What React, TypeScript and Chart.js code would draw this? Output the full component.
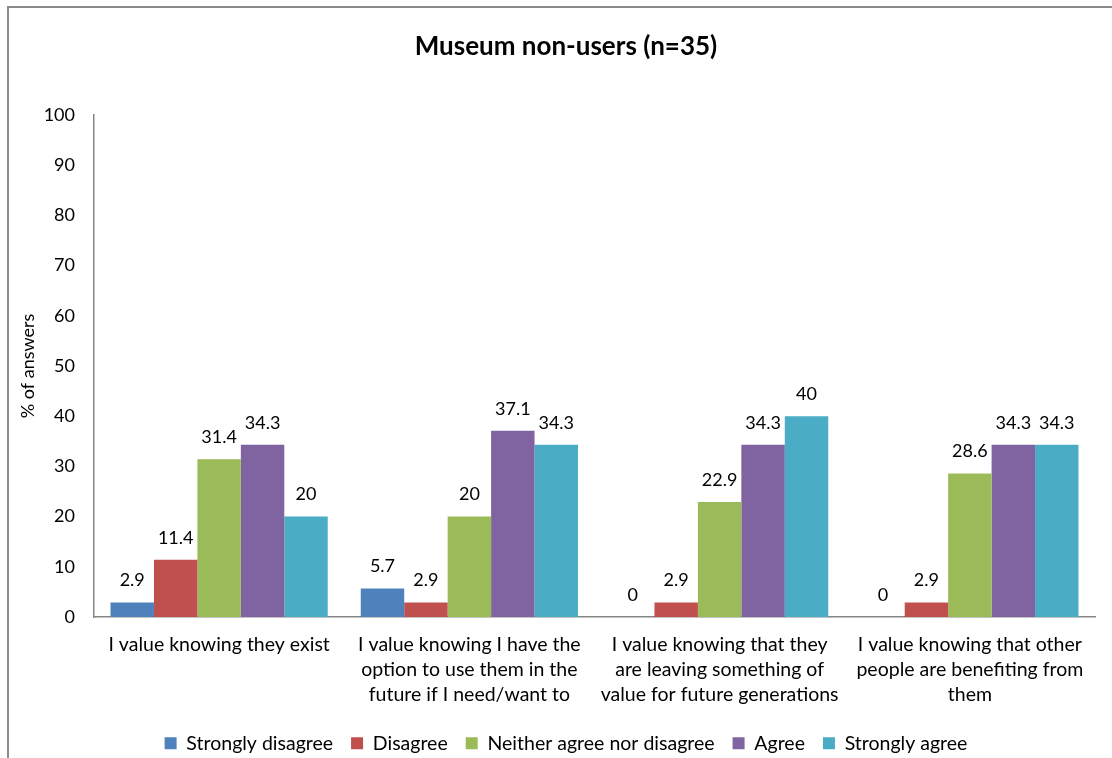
import React, { useEffect, useRef } from "react";
import { Chart, registerables } from "chart.js";

Chart.register(...registerables);

const FONT = "Lato, 'DejaVu Sans', sans-serif";

const categories: string[][] = [
  ["I value knowing they exist"],
  ["I value knowing I have the", "option to use them in the", "future if I need/want to"],
  ["I value knowing that they", "are leaving something of", "value for future generations"],
  ["I value knowing that other", "people are benefiting from", "them"],
];

const seriesNames = [
  "Strongly disagree",
  "Disagree",
  "Neither agree nor disagree",
  "Agree",
  "Strongly agree",
];

const stronglyDisagree = [2.9, 5.7, 0, 0];
const disagree = [11.4, 2.9, 2.9, 2.9];
const neither = [31.4, 20, 22.9, 28.6];
const agree = [34.3, 37.1, 34.3, 34.3];
const stronglyAgree = [20, 34.3, 40, 34.3];

const seriesValues = [stronglyDisagree, disagree, neither, agree, stronglyAgree];
const seriesColors = ["#4F81BD", "#C0504D", "#9BBB59", "#8064A2", "#4BACC6"];

const titleText = "Museum non-users (n=35)";
const yAxisTitle = "% of answers";
const yMin = 0;
const yMax = 100;
const yStep = 10;

const dataLabelPlugin = {
  id: "dataLabels",
  afterDatasetsDraw(chart: any) {
    const ctx = chart.ctx;
    ctx.save();
    ctx.font = `18px ${FONT}`;
    ctx.fillStyle = "#000";
    ctx.textAlign = "center";
    ctx.textBaseline = "middle";
    chart.data.datasets.forEach((ds: any, i: number) => {
      const meta = chart.getDatasetMeta(i);
      meta.data.forEach((el: any, j: number) => {
        ctx.fillText(String(ds.data[j]), el.x, el.y - 22);
      });
    });
    ctx.restore();
  },
};

export default function App() {
  const ref = useRef<HTMLCanvasElement | null>(null);

  useEffect(() => {
    if (!ref.current) return;
    const chart = new Chart(ref.current, {
      type: "bar",
      data: {
        labels: categories as any,
        datasets: seriesNames.map((name, i) => ({
          label: name,
          data: seriesValues[i],
          backgroundColor: seriesColors[i],
          borderWidth: 0,
          categoryPercentage: 0.868,
          barPercentage: 1,
        })),
      },
      options: {
        animation: false,
        responsive: false,
        devicePixelRatio: 1,
        layout: { padding: { left: 37, right: 35, top: 0, bottom: 0 } },
        plugins: {
          title: {
            display: true,
            text: titleText,
            color: "#000",
            font: { family: FONT, size: 26, weight: "bold", lineHeight: 1.2 },
            padding: { top: 31.4, bottom: 52.4 },
          },
          legend: {
            position: "bottom",
            labels: {
              boxWidth: 12,
              boxHeight: 12,
              padding: 18,
              color: "#000",
              font: { family: FONT, size: 19.5 },
            },
          },
          tooltip: { enabled: false },
        },
        scales: {
          x: {
            grid: { display: false, drawTicks: false },
            border: { color: "#868686", width: 1.5 },
            ticks: {
              color: "#000",
              font: { family: FONT, size: 19.5, lineHeight: 25 / 19.5 },
              padding: 15.5,
              maxRotation: 0,
              autoSkip: false,
            },
            afterFit: (s: any) => {
              s.height = 98.5;
            },
          },
          y: {
            min: yMin,
            max: yMax,
            grid: { display: false, drawTicks: false },
            border: { color: "#868686", width: 1.5 },
            ticks: {
              stepSize: yStep,
              color: "#000",
              font: { family: FONT, size: 18 },
              padding: 19,
            },
            title: {
              display: true,
              text: yAxisTitle,
              color: "#000",
              font: { family: FONT, size: 18 },
              padding: { top: -19.8, bottom: 0 },
            },
            afterFit: (s: any) => {
              s.width = 57;
            },
          },
        },
      },
      plugins: [dataLabelPlugin],
    });
    return () => chart.destroy();
  }, []);

  return (
    <div
      style={{
        position: "fixed",
        left: 0,
        top: 0,
        width: 1112,
        height: 758,
        overflow: "hidden",
        background: "#fff",
      }}
    >
      <div
        style={{
          position: "absolute",
          left: 7,
          top: 6,
          width: 2000,
          height: 2000,
          borderLeft: "2px solid #8a8a8a",
          borderTop: "2px solid #8a8a8a",
        }}
      />
      <canvas
        ref={ref}
        width={1130}
        height={763}
        style={{ position: "absolute", left: 0, top: 0, display: "block" }}
      />
    </div>
  );
}
